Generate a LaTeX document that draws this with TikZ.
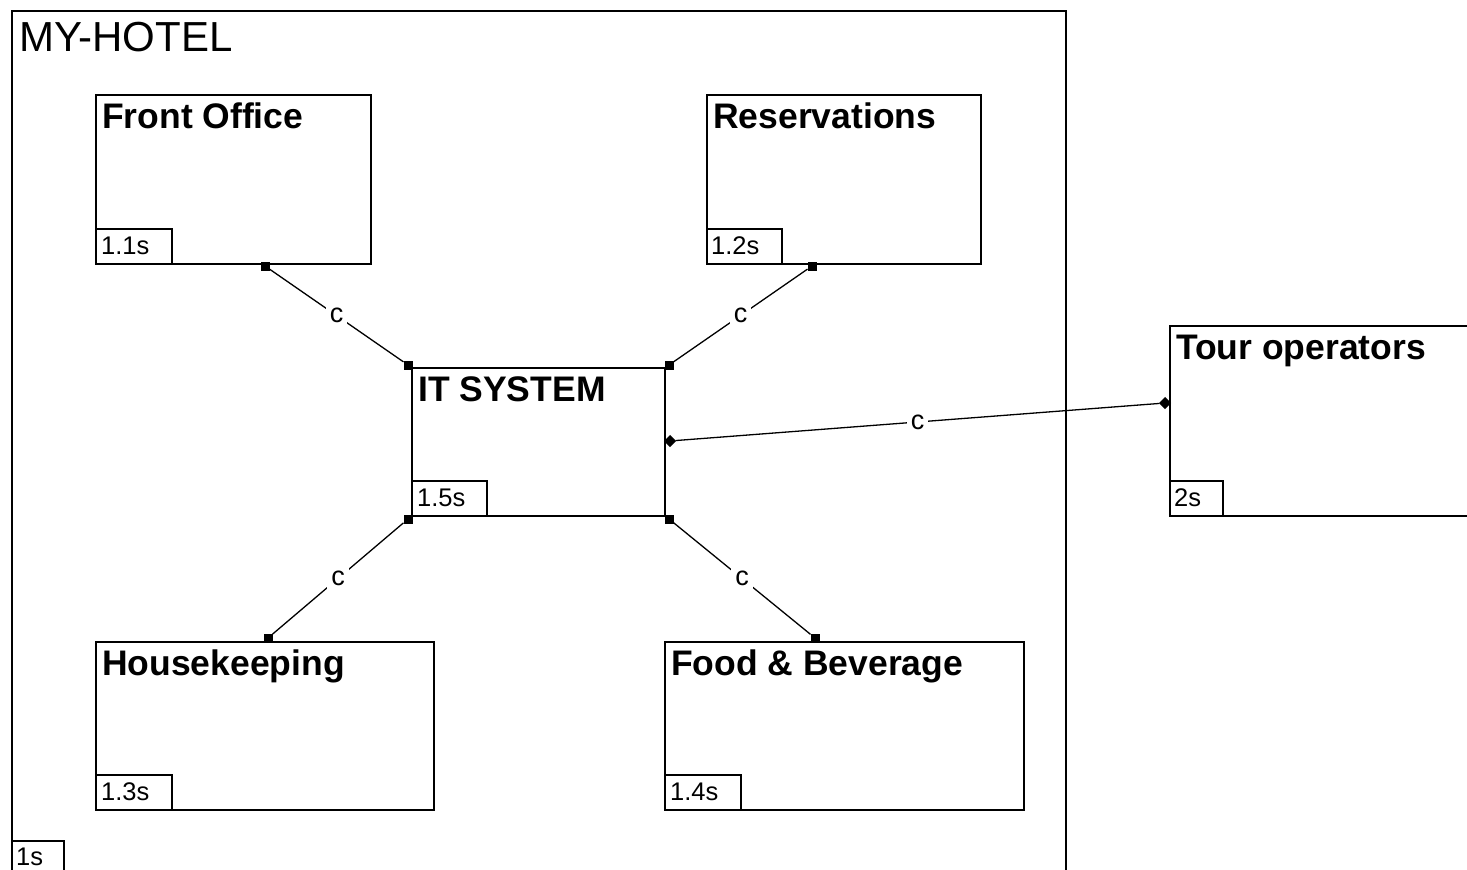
\documentclass[tikz,border=0pt]{standalone}
\usepackage{fontspec}
\setmainfont{Liberation Sans}

\tikzset{
  box/.style={draw, line width=1.7pt, rectangle, inner sep=0pt, outer sep=0pt, anchor=north west},
  tagbox/.style={draw, line width=1.4pt, rectangle, inner sep=0pt, outer sep=0pt, anchor=south west, minimum height=35pt},
  title/.style={anchor=base west, inner sep=0pt, font=\fontsize{35.5}{42}\selectfont\bfseries},
  tagtext/.style={anchor=base west, inner sep=0pt, font=\fontsize{25.5}{30}\selectfont},
  sqend/.style={fill=black, rectangle, inner sep=0pt, outer sep=0pt, minimum size=9pt},
  dmend/.style={sqend, minimum size=8.5pt, rotate=45},
  link/.style={line width=1.3pt},
  lbl/.style={fill=white, inner sep=4pt, font=\fontsize{27}{30}\selectfont}
}

\begin{document}
\begin{tikzpicture}[x=1pt, y=-1pt]
  \clip (0,0) rectangle (1467,870);
  \fill[white] (0,0) rectangle (1467,870);

  % enclosing hotel system
  \node[box, minimum width=1054pt, minimum height=890pt] (hotel) at (12,11) {};
  \node[anchor=base west, inner sep=0pt, font=\fontsize{42}{50}\selectfont] (hotel-title) at (19,51) {MY-HOTEL};
  \node[box, minimum width=52pt, minimum height=35pt] (hotel-tag) at (12,841) {};
  \node[tagtext] (hotel-tagtext) at (16,865) {1s};

  % departments
  \node[box, minimum width=275pt, minimum height=169pt] (fo) at (96,95) {};
  \node[title] (fo-title) at (102,128) {Front Office};
  \node[tagbox, minimum width=76pt] (fo-tag) at (fo.south west) {};
  \node[tagtext] (fo-tagtext) at (101,254) {1.1s};

  \node[box, minimum width=274pt, minimum height=169pt] (res) at (707,95) {};
  \node[title] (res-title) at (713,128) {Reservations};
  \node[tagbox, minimum width=75pt] (res-tag) at (res.south west) {};
  \node[tagtext] (res-tagtext) at (711,254) {1.2s};

  \node[box, minimum width=253pt, minimum height=148pt] (it) at (412,368) {};
  \node[title] (it-title) at (418,401) {IT SYSTEM};
  \node[tagbox, minimum width=75pt] (it-tag) at (it.south west) {};
  \node[tagtext] (it-tagtext) at (417,506) {1.5s};

  \node[box, minimum width=338pt, minimum height=168pt] (hk) at (96,642) {};
  \node[title] (hk-title) at (102,675) {Housekeeping};
  \node[tagbox, minimum width=76pt] (hk-tag) at (hk.south west) {};
  \node[tagtext] (hk-tagtext) at (101,800) {1.3s};

  \node[box, minimum width=359pt, minimum height=168pt] (fb) at (665,642) {};
  \node[title] (fb-title) at (671,675) {Food \& Beverage};
  \node[tagbox, minimum width=76pt] (fb-tag) at (fb.south west) {};
  \node[tagtext] (fb-tagtext) at (670,800) {1.4s};

  % external partner
  \node[box, minimum width=320pt, minimum height=190pt] (tour) at (1170,326) {};
  \node[title] (tour-title) at (1176,359) {Tour operators};
  \node[tagbox, minimum width=53pt] (tour-tag) at (tour.south west) {};
  \node[tagtext] (tour-tagtext) at (1174,506) {2s};

  % connection ends
  \node[sqend] (fo-end)   at ([xshift=169pt,yshift=-2pt]fo.south west) {};
  \node[sqend] (res-end)  at ([xshift=105pt,yshift=-2pt]res.south west) {};
  \node[sqend] (hk-end)   at ([xshift=172pt,yshift=4pt]hk.north west) {};
  \node[sqend] (fb-end)   at ([xshift=150pt,yshift=4pt]fb.north west) {};
  \node[sqend] (it-nw)    at ([xshift=-4pt,yshift=3pt]it.north west) {};
  \node[sqend] (it-ne)    at ([xshift=4pt,yshift=3pt]it.north east) {};
  \node[sqend] (it-sw)    at ([xshift=-4pt,yshift=-3pt]it.south west) {};
  \node[sqend] (it-se)    at ([xshift=4pt,yshift=-3pt]it.south east) {};
  \node[dmend] (it-e)     at ([xshift=5pt,yshift=1pt]it.east) {};
  \node[dmend] (tour-end) at ([xshift=-5pt,yshift=-77pt]tour.north west) {};

  % connections
  \draw[link] (fo-end) -- node[lbl] {c} (it-nw);
  \draw[link] (res-end) -- node[lbl] {c} (it-ne);
  \draw[link] (it-sw) -- node[lbl] {c} (hk-end);
  \draw[link] (it-se) -- node[lbl] {c} (fb-end);
  \draw[link] (it-e) -- node[lbl] {c} (tour-end);
\end{tikzpicture}
\end{document}
